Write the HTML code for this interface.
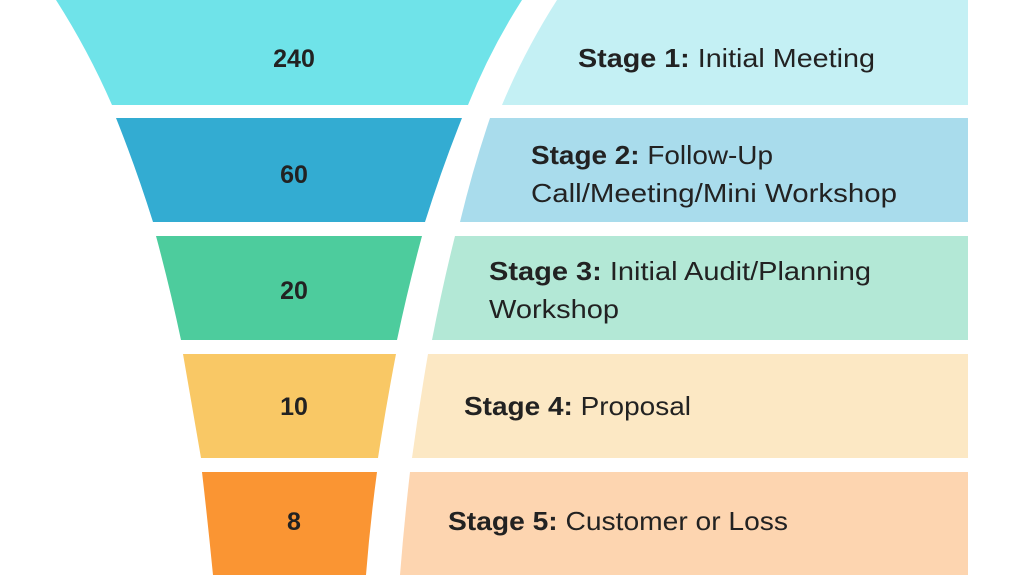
<!DOCTYPE html>
<html><head><meta charset="utf-8"><style>
html,body{margin:0;padding:0;background:#fff;width:1024px;height:576px;overflow:hidden}
text{font-family:"Liberation Sans",sans-serif;fill:#222}
.n{font-weight:bold;font-size:25px;text-anchor:middle}
.s{font-size:26px}
.b{font-weight:bold}
</style></head><body>
<svg width="1024" height="576" viewBox="0 0 1024 576" xmlns="http://www.w3.org/2000/svg">
<path d="M56,0 L522,0 Q490,50 468,105 L112,105 Q88,50 56,0Z" fill="#6fe3e9"/>
<path d="M116,118 L462,118 Q442,168 425,222 L153,222 Q136,168 116,118Z" fill="#33acd2"/>
<path d="M156,236 L422,236 Q408,288 397,340 L181,340 Q170,288 156,236Z" fill="#4dcc9d"/>
<path d="M183,354 L396,354 Q386,406 378,458 L201,458 Q192,406 183,354Z" fill="#f9c865"/>
<path d="M202,472 L377,472 Q370,524 366,575 L213,575 Q208,524 202,472Z" fill="#fa9533"/>

<path d="M557,0 L968,0 L968,105 L502,105 Q525,50 557,0Z" fill="#c4f0f4"/>
<path d="M490,118 L968,118 L968,222 L460,222 Q473,168 490,118Z" fill="#a9dcec"/>
<path d="M455,236 L968,236 L968,340 L432,340 Q442,288 455,236Z" fill="#b3e8d6"/>
<path d="M428,354 L968,354 L968,458 L412,458 Q419,406 428,354Z" fill="#fce8c4"/>
<path d="M410,472 L968,472 L968,575 L400,575 Q404,524 410,472Z" fill="#fdd5b0"/>

<text class="n" x="294" y="67">240</text>
<text class="n" x="294" y="183">60</text>
<text class="n" x="294" y="299">20</text>
<text class="n" x="294" y="415">10</text>
<text class="n" x="294" y="530">8</text>

<text class="s" x="578" y="67" textLength="297" lengthAdjust="spacingAndGlyphs"><tspan class="b">Stage 1:</tspan> Initial Meeting</text>
<text class="s" x="531" y="164" textLength="242" lengthAdjust="spacingAndGlyphs"><tspan class="b">Stage 2:</tspan> Follow-Up</text>
<text class="s" x="531" y="202" textLength="366" lengthAdjust="spacingAndGlyphs">Call/Meeting/Mini Workshop</text>
<text class="s" x="489" y="280" textLength="382" lengthAdjust="spacingAndGlyphs"><tspan class="b">Stage 3:</tspan> Initial Audit/Planning</text>
<text class="s" x="489" y="318" textLength="130" lengthAdjust="spacingAndGlyphs">Workshop</text>
<text class="s" x="464" y="415" textLength="227" lengthAdjust="spacingAndGlyphs"><tspan class="b">Stage 4:</tspan> Proposal</text>
<text class="s" x="448" y="530" textLength="340" lengthAdjust="spacingAndGlyphs"><tspan class="b">Stage 5:</tspan> Customer or Loss</text>
</svg>
</body></html>
